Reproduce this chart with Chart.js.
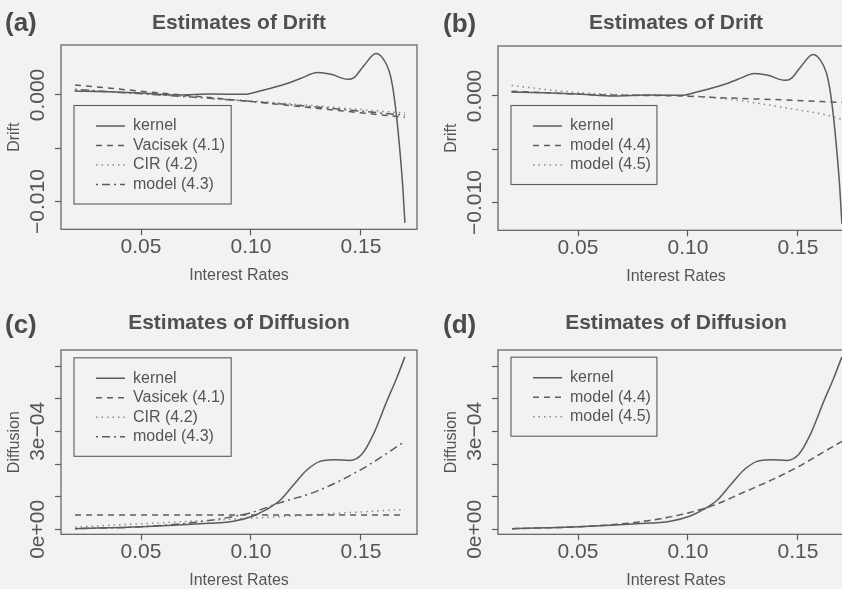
<!DOCTYPE html>
<html>
<head>
<meta charset="utf-8">
<script src="https://cdn.jsdelivr.net/npm/chart.js@4.4.0/dist/chart.umd.min.js"></script>
<style>
  html, body { margin: 0; padding: 0; }
  body { width: 842px; height: 589px; overflow: hidden; position: relative; background: #f2f2f2; }
  .panel { position: absolute; width: 421px; height: 295px; }
  .tag { position: absolute; font: bold 26px "Liberation Sans", Arial, sans-serif; line-height: 26px; color: #4a4a4a; }
</style>
</head>
<body>
<div class="panel" style="left:0px;top:0px"><canvas id="pa" width="421" height="295"></canvas></div>
<div class="panel" style="left:437px;top:1px"><canvas id="pb" width="421" height="295"></canvas></div>
<div class="panel" style="left:0px;top:305px"><canvas id="pc" width="421" height="295"></canvas></div>
<div class="panel" style="left:437px;top:305px"><canvas id="pd" width="421" height="295"></canvas></div>
<div class="tag" style="left:5px;top:9px">(a)</div>
<div class="tag" style="left:443px;top:10px">(b)</div>
<div class="tag" style="left:5px;top:311px">(c)</div>
<div class="tag" style="left:443px;top:311px">(d)</div>
<script>
const rateTicks = [0.05, 0.10, 0.15];
const rateTickLabels = ["0.05", "0.10", "0.15"];
const driftTicks = [-0.010, -0.005, 0.000];
const driftTickLabels = ["\u22120.010", "", "0.000"];
const diffusionTicks = [0, 1e-4, 2e-4, 3e-4, 4e-4, 5e-4];
const diffusionTickLabels = ["0e+00", "", "", "3e\u221204", "", ""];

// drift estimates
const kernelDriftRates = [0.0197, 0.0364, 0.0515, 0.0667, 0.0818, 0.0970, 0.1045, 0.1167, 0.1227, 0.1303, 0.1364, 0.1440, 0.1470, 0.1515, 0.1568, 0.1600, 0.1629, 0.1644, 0.1662, 0.1677, 0.1690, 0.1700];
const kernelDrift = [0.00038, 0.00031, 0.00016, 0.00000, 0.00009, 0.00006, 0.00040, 0.00110, 0.00157, 0.00210, 0.00194, 0.00147, 0.00166, 0.00280, 0.00390, 0.00344, 0.00220, 0.00080, -0.00200, -0.00520, -0.00850, -0.01200];
const linearDriftRates = [0.02, 0.10, 0.17];
const vasicekDrift = [0.00094, -0.00062, -0.00210];
const cirDrift = [0.00050, -0.00055, -0.00170];
const model43Drift = [0.00053, -0.00060, -0.00190];
const model44DriftRates = [0.0198, 0.0592, 0.0971, 0.1198, 0.1425, 0.1700];
const model44Drift = [0.00045, 0.00011, 0.00000, -0.00020, -0.00036, -0.00060];
const model45DriftRates = [0.0198, 0.0441, 0.0744, 0.0970, 0.1198, 0.1425, 0.1653, 0.1700];
const model45Drift = [0.00099, 0.00042, 0.00011, 0.00005, -0.00033, -0.00105, -0.00190, -0.00220];

// diffusion estimates
const kernelDiffRates = [0.020, 0.050, 0.0768, 0.092, 0.101, 0.1071, 0.1132, 0.1192, 0.1253, 0.1314, 0.1374, 0.145, 0.1503, 0.1556, 0.1617, 0.1662, 0.170];
const kernelDiff = [0.02e-4, 0.08e-4, 0.17e-4, 0.25e-4, 0.41e-4, 0.61e-4, 0.89e-4, 1.35e-4, 1.81e-4, 2.08e-4, 2.13e-4, 2.11e-4, 2.29e-4, 2.90e-4, 3.91e-4, 4.62e-4, 5.28e-4];
const vasicekDiffRates = [0.02, 0.17];
const vasicekDiff = [0.44e-4, 0.44e-4];
const cirDiffRates = [0.02, 0.10, 0.17];
const cirDiff = [0.07e-4, 0.34e-4, 0.61e-4];
const model43DiffRates = [0.02, 0.05, 0.075, 0.10, 0.113, 0.13, 0.15, 0.17];
const model43Diff = [0.02e-4, 0.08e-4, 0.22e-4, 0.51e-4, 0.81e-4, 1.17e-4, 1.83e-4, 2.69e-4];
const model44DiffRates = [0.0201, 0.0505, 0.0701, 0.0853, 0.1005, 0.1126, 0.1232, 0.1383, 0.1505, 0.161, 0.170];
const model44Diff = [0.02e-4, 0.08e-4, 0.17e-4, 0.30e-4, 0.51e-4, 0.76e-4, 1.07e-4, 1.52e-4, 1.93e-4, 2.34e-4, 2.69e-4];
const model45Diff = [0.02e-4, 0.08e-4, 0.17e-4, 0.30e-4, 0.51e-4, 0.76e-4, 1.07e-4, 1.52e-4, 1.93e-4, 2.34e-4, 2.69e-4];

const ink = "#5c5c5c";
const lightInk = "#8a8a8a";
const solid = [], dashed = [6, 5], dotted = [1.5, 4], dotdash = [2, 4, 8, 4];
const fontFamily = '"Liberation Sans", Arial, Helvetica, sans-serif';

Chart.defaults.font.family = fontFamily;
Chart.defaults.color = "#555";

function pts(xs, ys) {
  return xs.map((x, i) => ({ x: x, y: ys[i] }));
}

// box round the plot + frame round the legend, R style
const frame = {
  id: "frame",
  afterLayout(chart, args, opts) {
    const lg = chart.legend, a = chart.chartArea;
    const w = lg.width, h = lg.height;
    lg.left = a.left + 35 - 3.5;
    lg.top = a.top + opts.legendTop;
    lg.right = lg.left + w;
    lg.bottom = lg.top + h;
  },
  afterDraw(chart) {
    const ctx = chart.ctx, a = chart.chartArea, lg = chart.legend;
    ctx.save();
    ctx.strokeStyle = ink;
    ctx.lineWidth = 1.2;
    ctx.setLineDash([]);
    ctx.strokeRect(a.left, a.top, a.right - a.left, a.bottom - a.top);
    ctx.font = "16px " + fontFamily;
    let maxW = 0;
    lg.legendItems.forEach(it => { maxW = Math.max(maxW, ctx.measureText(it.text).width); });
    const firstC = lg.top + 3.5 + 8;
    const lastC = firstC + (lg.legendItems.length - 1) * 19.5;
    const fx = a.left + 13;
    const fr = lg.left + 3.5 + 29 + 8 + maxW + 6;
    ctx.lineWidth = 1.1;
    ctx.strokeRect(fx, firstC - 20.5, fr - fx, lastC + 19.5 - (firstC - 20.5));
    ctx.restore();
  }
};

function panel(id, o) {
  return new Chart(document.getElementById(id), {
    type: "line",
    data: {
      datasets: o.series.map(s => ({
        label: s.label,
        data: pts(s.x, s.y),
        borderColor: s.dash === dotted ? lightInk : ink,
        backgroundColor: "transparent",
        borderWidth: 1.5,
        borderDash: s.dash,
        pointRadius: 0,
        cubicInterpolationMode: "monotone",
        fill: false
      }))
    },
    options: {
      responsive: false,
      animation: false,
      events: [],
      layout: { padding: { top: 0, right: 4, bottom: 9.7, left: 0 } },
      plugins: {
        title: {
          display: true,
          text: o.title,
          fullSize: false,
          color: "#505050",
          font: { size: 21, weight: "bold" },
          padding: { top: o.titleCenter - 12.6, bottom: 45 - 25.2 - (o.titleCenter - 12.6) }
        },
        legend: {
          position: "chartArea",
          align: "start",
          labels: {
            usePointStyle: true,
            pointStyle: "line",
            pointStyleWidth: 29,
            padding: 3.5,
            color: "#555",
            font: { size: 16 },
            // take the dash and colour of the line itself, not of its points
            generateLabels: chart => Chart.defaults.plugins.legend.labels.generateLabels(chart).map(l => {
              const ds = chart.data.datasets[l.datasetIndex];
              return Object.assign(l, { lineWidth: 1.5, lineDash: ds.borderDash, strokeStyle: ds.borderColor });
            })
          }
        },
        tooltip: { enabled: false },
        frame: { legendTop: o.legendTop }
      },
      scales: {
        x: {
          type: "linear",
          min: 0.0136,
          max: 0.1755,
          afterBuildTicks: s => { s.ticks = rateTicks.map(v => ({ value: v })); },
          afterFit: s => { s.height = 56; },
          ticks: { padding: -1, maxRotation: 0, color: "#555", font: { size: 21 }, callback: (v, i) => rateTickLabels[i] },
          grid: { drawOnChartArea: false, drawTicks: true, tickLength: 6, tickColor: ink, tickWidth: 1.2 },
          border: { display: false },
          title: { display: true, text: "Interest Rates", color: "#555", font: { size: 16 }, padding: { top: 0, bottom: 0 } }
        },
        y: {
          type: "linear",
          min: o.yMin,
          max: o.yMax,
          afterBuildTicks: s => { s.ticks = o.yTicks.map(v => ({ value: v })); },
          afterFit: s => { s.width = 61; },
          ticks: {
            minRotation: 90, maxRotation: 90, crossAlign: "center", autoSkip: false,
            padding: o.yPad, color: "#555", font: { size: 21 },
            callback: (v, i) => o.yLabels[i]
          },
          grid: { drawOnChartArea: false, drawTicks: true, tickLength: 6, tickColor: ink, tickWidth: 1.2 },
          border: { display: false },
          title: { display: true, text: o.yTitle, color: "#555", font: { size: 16 }, padding: { top: 5.4, bottom: 0 } }
        }
      }
    },
    plugins: [frame]
  });
}

panel("pa", {
  title: "Estimates of Drift", titleCenter: 23, yTitle: "Drift",
  yMin: -0.0126, yMax: 0.00469, yTicks: driftTicks, yLabels: driftTickLabels, yPad: -15.7, legendTop: 69.5,
  series: [
    { label: "kernel", x: kernelDriftRates, y: kernelDrift, dash: solid },
    { label: "Vacisek (4.1)", x: linearDriftRates, y: vasicekDrift, dash: dashed },
    { label: "CIR (4.2)", x: linearDriftRates, y: cirDrift, dash: dotted },
    { label: "model (4.3)", x: linearDriftRates, y: model43Drift, dash: dotdash }
  ]
});

panel("pb", {
  title: "Estimates of Drift", titleCenter: 22, yTitle: "Drift",
  yMin: -0.0126, yMax: 0.00469, yTicks: driftTicks, yLabels: driftTickLabels, yPad: -15.7, legendTop: 68.5,
  series: [
    { label: "kernel", x: kernelDriftRates, y: kernelDrift, dash: solid },
    { label: "model (4.4)", x: model44DriftRates, y: model44Drift, dash: dashed },
    { label: "model (4.5)", x: model45DriftRates, y: model45Drift, dash: dotted }
  ]
});

panel("pc", {
  title: "Estimates of Diffusion", titleCenter: 18.3, yTitle: "Diffusion",
  yMin: -0.152e-4, yMax: 5.49e-4, yTicks: diffusionTicks, yLabels: diffusionTickLabels, yPad: -13, legendTop: 16.8,
  series: [
    { label: "kernel", x: kernelDiffRates, y: kernelDiff, dash: solid },
    { label: "Vasicek (4.1)", x: vasicekDiffRates, y: vasicekDiff, dash: dashed },
    { label: "CIR (4.2)", x: cirDiffRates, y: cirDiff, dash: dotted },
    { label: "model (4.3)", x: model43DiffRates, y: model43Diff, dash: dotdash }
  ]
});

panel("pd", {
  title: "Estimates of Diffusion", titleCenter: 18.3, yTitle: "Diffusion",
  yMin: -0.152e-4, yMax: 5.49e-4, yTicks: diffusionTicks, yLabels: diffusionTickLabels, yPad: -13, legendTop: 16.2,
  series: [
    { label: "kernel", x: kernelDiffRates, y: kernelDiff, dash: solid },
    { label: "model (4.4)", x: model44DiffRates, y: model44Diff, dash: dashed },
    { label: "model (4.5)", x: model44DiffRates, y: model45Diff, dash: dotted }
  ]
});
</script>
</body>
</html>
